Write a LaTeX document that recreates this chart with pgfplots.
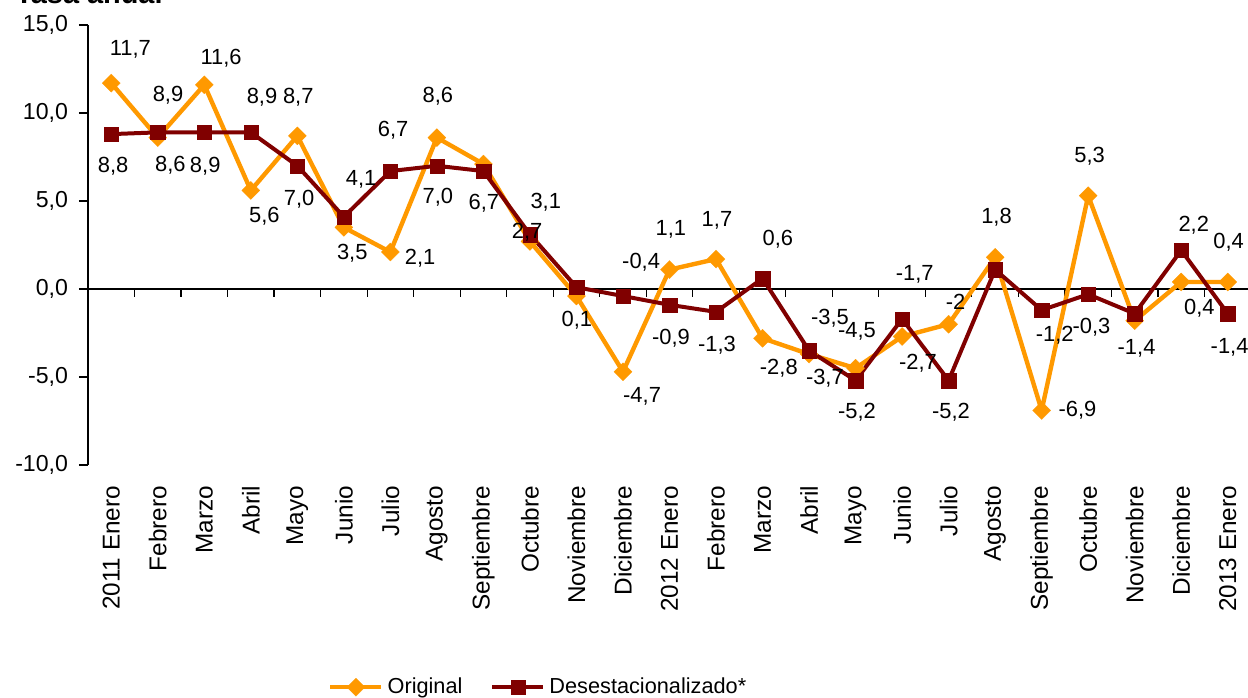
\documentclass[border=0pt]{standalone}
\usepackage{pgfplots}
\pgfplotsset{compat=1.18}
\usepackage{fontspec}
\setmainfont{Liberation Sans}
\definecolor{orig}{HTML}{FF9900}
\definecolor{dese}{HTML}{800000}
\begin{document}
\begin{tikzpicture}
\useasboundingbox (0bp,0bp) rectangle (624bp,349bp);
\node[anchor=base west,font=\bfseries\fontsize{14.5}{16}\selectfont,inner sep=0pt] at (7.5bp,347bp) {Tasa anual};
\begin{axis}[
  at={(44bp,116.5bp)}, anchor=south west, scale only axis,
  width=581.5bp, height=220bp,
  xmin=-0.5, xmax=24.5, ymin=-10, ymax=15,
  clip=false,
  axis x line*=bottom, axis y line*=left,
  x axis line style={draw=none},
  y axis line style={line width=0.6bp},
  ytick={-10,-5,0,5,10,15},
  tick align=outside,
  major tick length=4.5bp,
  ytick style={line width=0.6bp,black},
  xtick={0,...,24},
  xtick style={draw=none},
  xticklabels={2011 Enero,Febrero,Marzo,Abril,Mayo,Junio,Julio,Agosto,Septiembre,Octubre,Noviembre,Diciembre,2012 Enero,Febrero,Marzo,Abril,Mayo,Junio,Julio,Agosto,Septiembre,Octubre,Noviembre,Diciembre,2013 Enero},
  xticklabel style={rotate=90, anchor=east, font=\fontsize{12.2}{14}\selectfont, xshift=-2.5bp},
  yticklabel style={font=\fontsize{11.6}{14}\selectfont, xshift=-2bp},
  /pgf/number format/fixed,
  /pgf/number format/fixed zerofill,
  /pgf/number format/precision=1,
  /pgf/number format/use comma,
  /pgf/number format/assume math mode=true,
  legend columns=2,
  legend style={draw=none, fill=none, at={(0.388,-0.505)}, anchor=center,
    font=\fontsize{10.9}{12}\selectfont,
    /tikz/every even column/.append style={column sep=12bp}},
  legend image code/.code={\draw[mark repeat=2,mark phase=2] plot coordinates {(0cm,0cm) (0.45cm,0cm) (0.9cm,0cm)};},
]
\draw[line width=0.6bp] (axis cs:-0.5,0) -- (axis cs:24.5,0);
\pgfplotsinvokeforeach{-0.5,0.5,...,24.5}{\draw[line width=0.6bp] (axis cs:#1,0) -- ++(0bp,-4bp);}
\addplot[color=orig, line width=2.2bp, mark=square*, mark size=3.2bp,
  mark options={rotate=45, fill=orig, draw=orig, line width=0.1bp}] table {
x y
0 11.7
1 8.6
2 11.6
3 5.6
4 8.7
5 3.5
6 2.1
7 8.6
8 7.1
9 2.7
10 -0.4
11 -4.7
12 1.1
13 1.7
14 -2.8
15 -3.7
16 -4.5
17 -2.7
18 -2.0
19 1.8
20 -6.9
21 5.3
22 -1.8
23 0.4
24 0.4
};
\addlegendentry{Original}
\addplot[color=dese, line width=2bp, mark=square*, mark size=3.6bp,
  mark options={fill=dese, draw=dese, line width=0.1bp}] table {
x y
0 8.8
1 8.9
2 8.9
3 8.9
4 7.0
5 4.1
6 6.7
7 7.0
8 6.7
9 3.1
10 0.1
11 -0.4
12 -0.9
13 -1.3
14 0.6
15 -3.5
16 -5.2
17 -1.7
18 -5.2
19 1.1
20 -1.2
21 -0.3
22 -1.4
23 2.2
24 -1.4
};
\addlegendentry{Desestacionalizado*}
\addplot[draw=none, no markers, forget plot, nodes near coords, point meta=explicit symbolic,
  every node near coord/.append style={anchor=center, inner sep=0pt, font=\fontsize{11}{12}\selectfont, text=black}]
  table[meta=t] {
x y t
0.41 13.64 11,7
0.04 6.96 8,8
1.22 11.02 8,9
1.27 7.02 8,6
2.36 13.13 11,6
2.02 6.96 8,9
3.24 10.90 8,9
4.02 10.90 8,7
3.29 4.11 5,6
4.04 5.08 7,0
5.37 6.22 4,1
5.18 2.05 3,5
6.06 9.02 6,7
6.64 1.77 2,1
7.02 10.96 8,6
7.02 5.19 7,0
8.01 4.85 6,7
9.34 4.91 3,1
8.94 3.20 2,7
10.01 -1.77 0,1
11.41 -6.11 -4,7
11.39 1.54 -0,4
12.03 3.37 1,1
13.02 3.88 1,7
12.03 -2.80 -0,9
13.02 -3.20 -1,3
14.33 2.80 0,6
14.35 -4.51 -2,8
15.45 -1.66 -3,5
16.03 -2.40 -4,5
15.34 -5.08 -3,7
16.03 -7.02 -5,2
17.27 0.86 -1,7
17.34 -4.22 -2,7
18.15 -0.74 -2
18.05 -7.02 -5,2
19.03 4.05 1,8
20.28 -2.63 -1,2
20.77 -6.91 -6,9
21.03 7.53 5,3
21.07 -2.17 -0,3
22.04 -3.37 -1,4
23.27 3.65 2,2
24.02 2.63 0,4
23.39 -1.08 0,4
24.04 -3.31 -1,4
};
\end{axis}
\end{tikzpicture}
\end{document}
